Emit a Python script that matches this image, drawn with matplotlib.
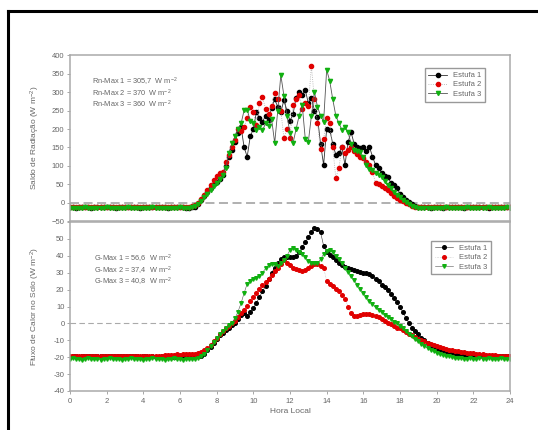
import numpy as np
import matplotlib
matplotlib.use("Agg")
import matplotlib.pyplot as plt
from matplotlib.lines import Line2D

plt.rcParams['font.family'] = ['Liberation Sans', 'DejaVu Sans']
plt.rcParams['mathtext.default'] = 'regular'

# === Dados (leituras a cada 10 min, 0 h a 24 h) ===
hora = np.arange(145) / 6.0

# Saldo de radiação (W m-2)
rn_estufa1 = [-12, -12, -13, -12, -12, -11, -12, -13, -12, -12,
              -12, -12, -11, -12, -12, -13, -12, -12, -12, -11,
              -12, -12, -12, -13, -12, -12, -12, -11, -12, -12,
              -12, -12, -13, -12, -12, -12, -11, -12, -13, -13,
              -12, -10,
              -2, 8, 18, 30, 40, 50, 58, 66, 76, 100,
              125, 142, 165, 190, 205, 150, 125, 180, 200, 245,
              230, 220, 235, 225, 258, 280, 260, 245, 278, 250,
              222, 240, 285, 300, 292, 305.7, 270, 285, 250, 232,
              160, 103, 200, 198, 160, 130, 135, 150, 103, 165,
              191, 160, 150, 148, 150, 140, 152, 125, 103, 95,
              80, 72, 70, 55, 48, 40, 25, 15, 8, 2,
              -3, -7, -10,
              -11, -12, -12, -13, -12, -12, -12, -13, -12, -12,
              -11, -12, -12, -12, -13, -12, -12, -11, -12, -12,
              -12, -12, -13, -12, -12, -11, -12, -12, -12, -11]
rn_estufa2 = [-11, -11, -10, -11, -11, -12, -11, -11, -10, -11,
              -11, -11, -11, -10, -11, -11, -12, -11, -11, -11,
              -10, -11, -11, -11, -11, -12, -11, -11, -10, -11,
              -11, -11, -11, -10, -11, -11, -11, -12, -11, -10,
              -9, -6,
              0, 12, 22, 35, 48, 62, 72, 80, 84, 110,
              130, 150, 170, 200, 195, 205, 230, 260, 245, 210,
              270, 287, 255, 240, 262, 296, 280, 250, 176, 200,
              176, 265, 280, 292, 255, 270, 262, 370, 280, 215,
              146, 172, 230, 216, 150, 67, 95, 150, 135, 142,
              150, 140, 132, 123, 122, 110, 104, 85, 54, 50,
              45, 40, 35, 27, 20, 14, 9, 4, 0, -4,
              -8, -10, -11,
              -11, -10, -11, -11, -12, -11, -11, -10, -11, -11,
              -11, -12, -11, -11, -10, -11, -11, -11, -12, -11,
              -11, -10, -11, -11, -11, -12, -11, -10, -11, -10]
rn_estufa3 = [-13, -13, -14, -13, -13, -12, -13, -14, -13, -13,
              -13, -13, -12, -13, -13, -14, -13, -13, -13, -12,
              -13, -13, -13, -14, -13, -13, -13, -12, -13, -13,
              -13, -13, -14, -13, -13, -13, -12, -13, -14, -13,
              -12, -9,
              -4, 5, 15, 25, 35, 45, 55, 65, 75, 95,
              135, 161, 180, 200, 215, 251, 252, 222, 215, 196,
              205, 196, 215, 207, 226, 162, 250, 346, 290, 236,
              190, 162, 200, 236, 265, 174, 165, 235, 300, 260,
              236, 220, 360, 330, 280, 236, 215, 198, 205, 191,
              160, 143, 140, 137, 125, 104, 92, 90, 80, 75,
              70, 60, 48, 40, 30, 22, 15, 8, 2, -4,
              -9, -12, -13,
              -13, -14, -13, -13, -13, -14, -13, -13, -12, -13,
              -13, -14, -13, -13, -13, -12, -13, -13, -14, -13,
              -13, -13, -12, -13, -14, -13, -13, -13, -12, -13]

# Fluxo de calor no solo (W m-2)
g_estufa1 = [-20, -19.5, -19.5, -20, -19.5, -19.5, -19.5, -19, -19.5, -19.5,
             -19.5, -19, -19.5, -19, -19, -19.5, -19, -19, -19.5, -19,
             -19.5, -19.5, -19.5, -20, -19.5, -19.5, -20, -19.5, -20, -20,
             -19.5, -20, -19.5, -20, -20, -19.5, -20, -20, -20, -20,
             -19.5, -19.5,
             -19.5, -19, -18, -16, -14, -11.5, -9, -7, -5.5, -4,
             -2.5, -1, 0, 2.5, 5, 6, 4.5, 6.5, 9, 12,
             15.5, 19, 22, 26, 30, 33, 35.5, 38, 39, 39,
             39, 39.5, 40, 42, 45, 48, 51, 54, 56.6, 56,
             54, 46, 42, 40.5, 39, 37.5, 36, 34.5, 33.5, 32.5,
             32, 31.5, 31, 30.5, 30, 30, 29, 28, 26.5, 25,
             23, 21.5, 20, 17.5, 15, 12.5, 9.5, 6.5, 3, 0,
             -2.5, -4.5, -6.5,
             -8.5, -10, -11.5, -12.5, -13.5, -14.5, -15.5, -16, -16.5, -17,
             -17.5, -18, -18, -18.5, -18.5, -18.5, -19, -19, -19, -19,
             -19, -19.5, -19.5, -19.5, -19.5, -19.5, -19.5, -19.5, -19.5, -19.5]
g_estufa2 = [-19.5, -19.5, -19, -19.5, -19.5, -19, -19.5, -19.5, -19.5, -19.5,
             -19.5, -19.5, -19, -19.5, -19.5, -19.5, -19.5, -19, -19.5, -19.5,
             -19.5, -19.5, -19.5, -19.5, -19, -19.5, -19.5, -19.5, -19.5, -19,
             -19, -18.5, -18.5, -18.5, -18.5, -18, -18.5, -18, -18, -18,
             -18, -18,
             -17.5, -17, -16, -14.5, -12.5, -10.5, -8.5, -6.5, -4.5, -3,
             -1.5, 0, 1.5, 3.5, 6, 8, 10.5, 13, 15.5, 18,
             20.5, 22.5, 24.5, 26.5, 28.5, 31, 33, 35, 37.4, 36,
             34.5, 33, 32, 31.5, 31, 31.5, 32.5, 34, 35, 35,
             34, 33, 25, 23.5, 22, 20.5, 19, 17, 14.5, 10,
             6, 4.5, 4.5, 5, 5.5, 5.5, 5.5, 5, 4.5, 3.5,
             2.5, 1.5, 0.5, -0.5, -1.5, -2.5, -3, -4, -5, -6,
             -7, -8, -9,
             -10, -10.5, -11.5, -12, -12.5, -13.5, -14, -14.5, -15, -15.5,
             -16, -16.5, -16.5, -17, -17, -17.5, -17.5, -17.5, -18, -18,
             -18, -18.5, -18.5, -18.5, -18.5, -19, -19, -19, -19, -19]
g_estufa3 = [-21, -20.5, -21, -21, -21.5, -21, -20.5, -21, -21, -21,
             -21.5, -21, -21, -20.5, -21, -21, -21, -21.5, -21, -21,
             -20.5, -21, -21, -21, -21.5, -21, -21, -20.5, -21, -21,
             -21, -21.5, -21, -21, -20.5, -21, -21, -21.5, -21, -21,
             -21, -21,
             -20.5, -19.5, -18, -16, -13.5, -11, -8.5, -6.5, -4.5, -2.5,
             -1, 0.5, 3, 7, 12, 18, 23.5, 25, 26, 27,
             28, 30, 32.5, 34.5, 35, 35, 34, 35.5, 37.5, 40,
             43.5, 44.5, 43.5, 42, 41, 39, 37, 36, 35.5, 35.5,
             38, 41, 43, 43.5, 42, 40, 38, 35.5, 33, 30.5,
             28, 25.5, 23, 20.5, 18, 15.5, 13.5, 11.5, 9.5, 8,
             6.5, 5, 3.5, 2.5, 1, 0, -1.5, -3, -4.5, -6,
             -7.5, -9, -10.5,
             -12, -13.5, -14.5, -15.5, -16.5, -17.5, -18, -18.5, -19, -19.5,
             -20, -20.5, -20.5, -20.5, -21, -21, -20.5, -21, -21, -20.5,
             -21, -21, -20.5, -21, -21, -21, -20.5, -21, -21, -21]

estufas = ['Estufa 1', 'Estufa 2', 'Estufa 3']
txt_rn = ['Rn-Max 1 = 305,7  W m$^{-2}$', 'Rn-Max 2 = 370  W m$^{-2}$', 'Rn-Max 3 = 360  W m$^{-2}$']
txt_g = ['G-Max 1 = 56,6  W m$^{-2}$', 'G-Max 2 = 37,4  W m$^{-2}$', 'G-Max 3 = 40,8  W m$^{-2}$']

# estilos: (marcador, cor do marcador, cor da linha, tipo de linha)
estilos = [('o', 'black', '#333333', '-'),
           ('o', '#e00000', '#aaaaaa', ':'),
           ('v', '#10b010', '#555555', '-')]

cinza = '#999999'
cor_txt = '#666666'

fig = plt.figure(figsize=(5.38, 4.30), dpi=100)
ax1 = fig.add_axes([0.130, 0.485, 0.818, 0.387])
ax2 = fig.add_axes([0.130, 0.0907, 0.818, 0.393])

# moldura externa
fig.add_artist(Line2D([0.0149, 1.0], [0.974, 0.974], color='black', lw=2.2, transform=fig.transFigure))
fig.add_artist(Line2D([0.0149, 0.0149], [0.0, 0.974], color='black', lw=2.2, transform=fig.transFigure))

# === Saldo de radiação ===
for serie, nome, (m, cm, cl, ls) in zip([rn_estufa1, rn_estufa2, rn_estufa3], estufas, estilos):
    ax1.plot(hora, serie, color=cl, ls=ls, lw=0.6, marker=m, ms=3.0,
             mfc=cm, mec=cm, label=nome)
ax1.axhline(0, color='#aaaaaa', ls=(0, (5, 2.5)), lw=1.3, zorder=0)
ax1.set_xlim(0, 24)
ax1.set_ylim(-50, 400)
ax1.set_yticks(np.arange(-50, 401, 50))
ax1.set_xticks(np.arange(0, 25, 2))
ax1.tick_params(axis='x', length=0, labelbottom=False)
ax1.set_ylabel('Saldo de Radiação (W m$^{-2}$)', fontsize=6, color=cor_txt)
ax1.yaxis.set_label_coords(-0.064, 0.5)
for i, s in enumerate(txt_rn):
    ax1.text(0.05, 0.838 - i * 0.066, s, transform=ax1.transAxes, fontsize=5.3,
             color=cor_txt, va='center')
ax1.legend(loc='upper right', bbox_to_anchor=(0.943, 0.922), borderaxespad=0,
           fontsize=5.5, fancybox=False, edgecolor=cinza, handlelength=2.4,
           labelcolor=cor_txt, borderpad=0.5, labelspacing=0.25, framealpha=1)

# === Fluxo de calor no solo ===
for serie, nome, (m, cm, cl, ls) in zip([g_estufa1, g_estufa2, g_estufa3], estufas, estilos):
    ax2.plot(hora, serie, color=cl, ls=ls, lw=0.4, marker=m, ms=2.6,
             mfc=cm, mec=cm, label=nome)
ax2.axhline(0, color='#aaaaaa', ls=(0, (5, 3)), lw=0.8, zorder=0)
ax2.set_xlim(0, 24)
ax2.set_ylim(-40, 60)
ax2.set_yticks(np.arange(-40, 61, 10))
ax2.set_yticklabels([str(v) for v in range(-40, 60, 10)] + [''])
ax2.set_xticks(np.arange(0, 25, 2))
ax2.set_xlabel('Hora Local', fontsize=6, color=cor_txt, labelpad=2)
ax2.set_ylabel('Fluxo de Calor no Solo (W m$^{-2}$)', fontsize=6, color=cor_txt)
ax2.yaxis.set_label_coords(-0.064, 0.5)
for i, s in enumerate(txt_g):
    ax2.text(0.055, 0.78 - i * 0.068, s, transform=ax2.transAxes, fontsize=5.3,
             color=cor_txt, va='center')
ax2.legend(loc='upper right', bbox_to_anchor=(0.957, 0.888), borderaxespad=0,
           fontsize=5.5, fancybox=False, edgecolor=cinza, handlelength=2.4,
           labelcolor=cor_txt, borderpad=0.5, labelspacing=0.25, framealpha=1)

for ax in (ax1, ax2):
    for sp in ax.spines.values():
        sp.set_color('#aaaaaa')
        sp.set_linewidth(1.1)
    ax.tick_params(axis='y', direction='out', length=2.5, width=0.6, color=cinza,
                   labelsize=5.5, labelcolor=cor_txt, pad=1.5)
ax2.tick_params(axis='x', direction='out', length=2, width=0.6, color=cinza,
                labelsize=5.5, labelcolor=cor_txt, pad=3)

fig.savefig('out.png', dpi=100)
